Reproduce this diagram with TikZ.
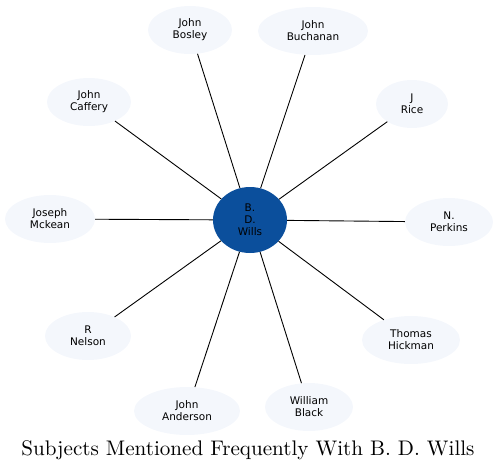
\documentclass[tikz,border=0pt]{standalone}
\usepackage{fontspec}
\setmainfont{Latin Modern Roman}
\newfontfamily\nodefont{DejaVu Sans}
\usetikzlibrary{shapes.geometric}
\definecolor{outerfill}{HTML}{F4F7FC}
\definecolor{hubfill}{HTML}{0B4F9C}
\tikzset{
  person/.style={ellipse, fill=outerfill, draw=none, inner sep=0pt, minimum height=48pt, align=center, font=\nodefont\fontsize{10.5}{12}\selectfont},
  hub/.style={ellipse, fill=hubfill, draw=none, inner sep=0pt, minimum width=74pt, minimum height=66pt, align=center, font=\nodefont\fontsize{10.5}{12}\selectfont},
  link/.style={draw=black, line width=0.9pt}
}
\begin{document}
\begin{tikzpicture}[x=1pt,y=-1pt]
\useasboundingbox (0,0) rectangle (498,472);
\node[hub] (c) at (250,220) {B.\\D.\\Wills};
\node[person, minimum width=84pt] (bosley) at (190,30) {John\\Bosley};
\node[person, minimum width=110pt] (buchanan) at (313,31) {John\\Buchanan};
\node[person, minimum width=84pt] (caffery) at (89,102) {John\\Caffery};
\node[person, minimum width=72pt] (rice) at (412,104) {J\\Rice};
\node[person, minimum width=90pt] (mckean) at (50,219) {Joseph\\Mckean};
\node[person, minimum width=88pt] (perkins) at (449,222) {N.\\Perkins};
\node[person, minimum width=86pt] (nelson) at (88,336) {R\\Nelson};
\node[person, minimum width=98pt] (hickman) at (411,340) {Thomas\\Hickman};
\node[person, minimum width=106pt] (anderson) at (187,411) {John\\Anderson};
\node[person, minimum width=88pt] (black) at (309,407) {William\\Black};
\foreach \n in {bosley,buchanan,caffery,rice,mckean,perkins,nelson,hickman,anderson,black}
  \draw[link] (c) -- (\n);
\node[anchor=base, inner sep=0pt, font=\fontsize{10}{12}\selectfont] (title) at (248,455) {\scalebox{2.11}{Subjects Mentioned Frequently With B. D. Wills}};
\end{tikzpicture}
\end{document}
